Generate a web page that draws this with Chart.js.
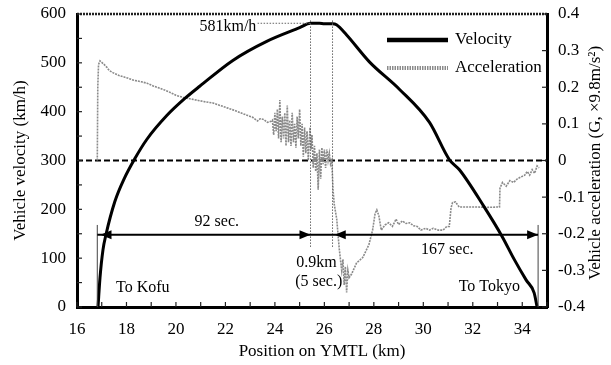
<!DOCTYPE html>
<html>
<head>
<meta charset="utf-8">
<script src="https://cdn.jsdelivr.net/npm/chart.js@4.4.1/dist/chart.umd.min.js"></script>
<style>
  html, body { margin: 0; padding: 0; background: #fff; }
  #wrap { width: 611px; height: 365px; position: relative; }
</style>
</head>
<body>
<div id="wrap"><canvas id="run"></canvas></div>
<script>
// vehicle velocity along the line
const velKm  = [16.85, 16.93, 17.05, 17.17, 17.53, 17.9, 18.34, 18.82, 19.63, 20.36, 20.96, 22.3, 23.67, 25.0,
                25.44, 25.8, 26.0, 26.33, 26.49, 26.9, 27.82, 29.03, 30.25, 31.05, 31.46, 32.46, 33.19, 33.68,
                34.16, 34.48, 34.6];
const velKmh = [0, 60, 117, 148, 216, 262, 304, 343, 392, 427, 452, 505, 544, 572,
                581, 581, 580, 580, 578, 557, 502, 446, 378, 302, 281, 205, 144, 97,
                55, 29, 0];

// vehicle acceleration (G)
const accKm = [16.82, 16.84, 16.87, 16.93, 17.0, 17.1, 17.2, 17.3, 17.45, 17.7, 18.0, 18.3, 18.6, 18.83,
               19.1, 19.4, 19.7, 20.0, 20.3, 20.6, 20.9, 21.2, 21.5, 21.8, 22.1, 22.4, 22.7, 22.9, 23.1,
               23.3, 23.4, 23.55, 23.7, 23.85,
               23.9, 23.95, 24.0, 24.05, 24.1, 24.15, 24.2, 24.25, 24.3, 24.35, 24.4, 24.45, 24.5, 24.55,
               24.6, 24.65, 24.7, 24.75, 24.8, 24.85, 24.9, 24.95, 25.0, 25.05, 25.1, 25.15, 25.2, 25.25,
               25.3, 25.35, 25.42, 25.46, 25.5, 25.55, 25.6, 25.65, 25.7, 25.75, 25.8, 25.85, 25.9, 25.95,
               26.0, 26.05, 26.1, 26.15, 26.2, 26.25, 26.3, 26.35, 26.4, 26.5, 26.6, 26.65, 26.7, 26.75,
               26.8, 26.85, 26.9, 26.95, 27.0, 27.1, 27.3, 27.55, 27.8, 27.95, 28.05, 28.12, 28.2, 28.3,
               28.45, 28.6, 28.75, 28.9, 29.0, 29.15, 29.3, 29.45, 29.6, 29.75, 29.9, 30.1, 30.25, 30.4,
               30.6, 30.8, 30.95, 31.05, 31.12, 31.18, 31.3, 31.45, 31.8, 32.2, 32.6, 33.0, 33.08, 33.1,
               33.2, 33.35, 33.5, 33.65, 33.8, 33.95, 34.1, 34.2, 34.3, 34.4, 34.5, 34.6, 34.68];
const accG  = [0, 0.2, 0.262, 0.272, 0.268, 0.262, 0.255, 0.246, 0.24, 0.232, 0.226, 0.219, 0.215, 0.211,
               0.203, 0.196, 0.188, 0.178, 0.172, 0.168, 0.164, 0.16, 0.157, 0.15, 0.143, 0.136, 0.128, 0.123, 0.118,
               0.108, 0.114, 0.112, 0.104, 0.107,
               0.11, 0.07, 0.13, 0.08, 0.14, 0.06, 0.165, 0.05, 0.12, 0.06, 0.13, 0.04, 0.15, 0.05,
               0.11, 0.04, 0.13, 0.05, 0.10, 0.035, 0.12, 0.06, 0.14, 0.04, 0.10, 0.01, 0.09, 0.02,
               0.08, 0.0, 0.09, 0.03, 0.07, -0.02, 0.04, -0.03, 0.02, -0.08, 0.03, -0.05, 0.035, -0.01,
               0.03, -0.02, 0.03, 0.0, 0.02, -0.01, 0.0, -0.08, -0.12, -0.16, -0.24, -0.27, -0.30, -0.27,
               -0.34, -0.29, -0.36, -0.30, -0.32, -0.31, -0.28, -0.265, -0.23, -0.19, -0.145, -0.135, -0.15, -0.19,
               -0.176, -0.17, -0.18, -0.16, -0.175, -0.165, -0.172, -0.17, -0.178, -0.18, -0.19, -0.185, -0.19, -0.185,
               -0.19, -0.19, -0.18, -0.18, -0.13, -0.115, -0.113, -0.127, -0.127, -0.127, -0.128, -0.127, -0.127, -0.075,
               -0.06, -0.07, -0.055, -0.06, -0.05, -0.045, -0.04, -0.03, -0.04, -0.025, -0.035, -0.015, -0.02];

// tick labels
const kmLabels  = [16, 18, 20, 22, 24, 26, 28, 30, 32, 34];
const kmhLabels = [0, 100, 200, 300, 400, 500, 600];
const gLabels   = [-0.4, -0.3, -0.2, -0.1, 0, 0.1, 0.2, 0.3, 0.4];

// run markers
const peakKmh  = 581;
const runKm    = [16.82, 34.64];   // departure / stop
const zoneKm   = [25.44, 26.33];   // 0.9 km top-speed section
const arrowKmh = 148;

const SERIF = '"Liberation Serif", "Times New Roman", serif';
const notes = [
  ['581km/h', 23.25, 574, 'right'],
  ['92 sec.', 21.65, 174, 'center'],
  ['0.9km', 24.86, 90, 'left'],
  ['(5 sec.)', 24.82, 51, 'left'],
  ['167 sec.', 30.97, 117, 'center'],
  ['To Kofu', 18.66, 39, 'center'],
  ['To Tokyo', 32.67, 41, 'center'],
];

function line(ctx, x0, y0, x1, y1) {
  ctx.beginPath(); ctx.moveTo(x0, y0); ctx.lineTo(x1, y1); ctx.stroke();
}

function head(ctx, x, y, dir) {
  ctx.beginPath();
  ctx.moveTo(x, y);
  ctx.lineTo(x - dir * 11, y - 4.5);
  ctx.lineTo(x - dir * 11, y + 4.5);
  ctx.closePath();
  ctx.fill();
}

const decor = {
  id: 'decor',
  beforeDatasetsDraw(chart) {
    const { ctx, chartArea: a, scales: { y1 } } = chart;
    ctx.save();
    ctx.strokeStyle = '#000';
    ctx.lineWidth = 2;
    ctx.setLineDash([6, 3]);
    const z = y1.getPixelForValue(0);
    line(ctx, a.left, z, a.right, z);
    ctx.restore();
  },
  afterDatasetsDraw(chart) {
    const { ctx, scales: { x, y } } = chart;
    ctx.save();
    // start / stop markers
    ctx.strokeStyle = '#444';
    ctx.lineWidth = 1;
    runKm.forEach(k => line(ctx, x.getPixelForValue(k), y.getPixelForValue(0), x.getPixelForValue(k), y.getPixelForValue(168)));
    // top-speed section
    ctx.strokeStyle = '#666';
    ctx.setLineDash([1.5, 1.5]);
    zoneKm.forEach(k => line(ctx, x.getPixelForValue(k), y.getPixelForValue(123), x.getPixelForValue(k), y.getPixelForValue(590)));
    line(ctx, x.getPixelForValue(23.3), y.getPixelForValue(peakKmh), x.getPixelForValue(zoneKm[0]), y.getPixelForValue(peakKmh));
    ctx.setLineDash([]);

    // travel time arrows
    const ay = y.getPixelForValue(arrowKmh);
    ctx.strokeStyle = '#000';
    ctx.fillStyle = '#000';
    ctx.lineWidth = 2;
    line(ctx, x.getPixelForValue(runKm[0]), ay, x.getPixelForValue(runKm[1]), ay);
    head(ctx, x.getPixelForValue(16.95), ay, -1);
    head(ctx, x.getPixelForValue(zoneKm[0]), ay, 1);
    head(ctx, x.getPixelForValue(26.42), ay, -1);
    head(ctx, x.getPixelForValue(runKm[1]), ay, 1);

    // notes
    ctx.font = '16px ' + SERIF;
    ctx.textBaseline = 'middle';
    notes.forEach(([t, k, v, al]) => {
      ctx.textAlign = al;
      ctx.fillText(t, x.getPixelForValue(k), y.getPixelForValue(v));
    });
    ctx.restore();
  },
  afterDraw(chart) {
    const { ctx, chartArea: a, scales: { x, y, y1 } } = chart;
    ctx.save();
    // dotted top frame
    ctx.strokeStyle = '#222';
    ctx.lineWidth = 2.5;
    ctx.setLineDash([2, 1]);
    line(ctx, a.left, a.top, a.right, a.top);
    ctx.setLineDash([]);

    // inward tick marks
    ctx.strokeStyle = '#222';
    ctx.lineWidth = 1.2;
    x.ticks.forEach(t => { const p = x.getPixelForValue(t.value); line(ctx, p, a.bottom, p, a.bottom - 5); });
    y.ticks.forEach(t => { const p = y.getPixelForValue(t.value); line(ctx, a.left, p, a.left + 5, p); });
    y1.ticks.forEach(t => { const p = y1.getPixelForValue(t.value); line(ctx, a.right, p, a.right - 5, p); });

    // legend
    const lx = a.right - 160, ly = a.top + 26;
    ctx.strokeStyle = '#000';
    ctx.lineWidth = 4.5;
    line(ctx, lx, ly, lx + 61, ly);
    ctx.strokeStyle = '#8a8a8a';
    ctx.lineWidth = 4;
    ctx.setLineDash([1.5, 1]);
    line(ctx, lx, ly + 28, lx + 61, ly + 28);
    ctx.setLineDash([]);
    ctx.fillStyle = '#000';
    ctx.font = '17px ' + SERIF;
    ctx.textAlign = 'left';
    ctx.textBaseline = 'middle';
    ctx.fillText('Velocity', lx + 68, ly);
    ctx.fillText('Acceleration', lx + 68, ly + 28);

    // axis titles
    ctx.textAlign = 'center';
    ctx.fillText('Position on YMTL (km)', 322, 352);
    ctx.translate(596, 163);
    ctx.rotate(-Math.PI / 2);
    ctx.fillText('Vehicle acceleration (G, \u00d79.8m/s\u00b2)', 0, 0);
    ctx.restore();
  }
};

Chart.defaults.font.family = SERIF;
Chart.defaults.color = '#000';

new Chart(document.getElementById('run'), {
  type: 'line',
  data: {
    datasets: [
      {
        label: 'Velocity',
        data: velKm.map((k, i) => ({ x: k, y: velKmh[i] })),
        yAxisID: 'y',
        borderColor: '#000',
        borderWidth: 3,
        pointRadius: 0,
        cubicInterpolationMode: 'monotone'
      },
      {
        label: 'Acceleration',
        data: accKm.map((k, i) => ({ x: k, y: accG[i] })),
        yAxisID: 'y1',
        borderColor: '#8a8a8a',
        borderWidth: 1.6,
        borderDash: [2, 1],
        pointRadius: 0,
        tension: 0
      }
    ]
  },
  options: {
    responsive: true,
    maintainAspectRatio: false,
    animation: false,
    layout: { padding: { top: 14 } },
    plugins: { legend: { display: false }, tooltip: { enabled: false } },
    scales: {
      x: {
        type: 'linear',
        min: 16, max: 35,
        grid: { display: false },
        border: { display: true, width: 3, color: '#000' },
        ticks: {
          stepSize: 1, autoSkip: false, maxRotation: 0, padding: 4,
          font: { size: 17 },
          callback: v => kmLabels.includes(v) ? String(v) : ''
        },
        afterFit: s => { s.height = 58; }
      },
      y: {
        position: 'left',
        min: 0, max: 600,
        grid: { display: false },
        border: { display: true, width: 3, color: '#000' },
        title: { display: true, text: 'Vehicle velocity (km/h)', font: { size: 17 }, padding: { top: 10 } },
        ticks: {
          stepSize: 50, padding: 3,
          font: { size: 17 },
          callback: v => kmhLabels.includes(v) ? String(v) : ''
        },
        afterFit: s => { s.width = 77; }
      },
      y1: {
        position: 'right',
        min: -0.4, max: 0.4,
        grid: { display: false },
        border: { display: true, width: 3, color: '#000' },
        ticks: {
          stepSize: 0.1, padding: 3,
          font: { size: 17 },
          callback: v => {
            const r = Math.round(v * 10) / 10;
            return gLabels.includes(r) ? (r === 0 ? '0' : r.toFixed(1)) : '';
          }
        },
        afterFit: s => { s.width = 64; }
      }
    }
  },
  plugins: [decor]
});
</script>
</body>
</html>
